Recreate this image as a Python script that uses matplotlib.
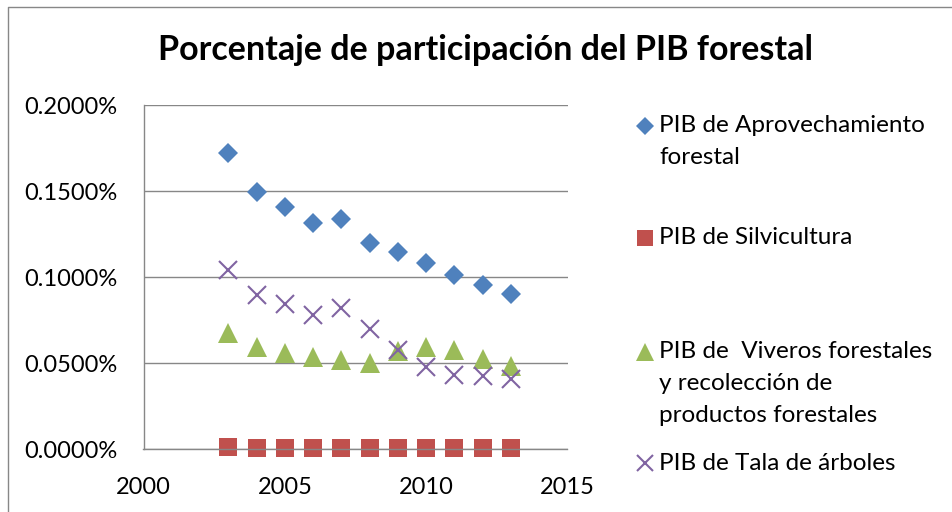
import matplotlib.pyplot as plt
from matplotlib.lines import Line2D
from matplotlib.ticker import FuncFormatter

# ----------------------------------------------------------------------
# Data (percent of GDP)
# ----------------------------------------------------------------------
years = [2003, 2004, 2005, 2006, 2007, 2008, 2009, 2010, 2011, 2012, 2013]

aprovechamiento = [0.1723, 0.1496, 0.1405, 0.1314, 0.1335, 0.1196,
                   0.1145, 0.1080, 0.1012, 0.0953, 0.0899]
silvicultura = [0.0013, 0.0008, 0.0008, 0.0008, 0.0008, 0.0008,
                0.0008, 0.0008, 0.0008, 0.0008, 0.0008]
viveros = [0.0677, 0.0593, 0.0561, 0.0532, 0.0517, 0.0498,
           0.0568, 0.0591, 0.0576, 0.0521, 0.0484]
tala = [0.1041, 0.0895, 0.0841, 0.0779, 0.0818, 0.0696,
        0.0576, 0.0479, 0.0430, 0.0424, 0.0405]

title = "Porcentaje de participación del PIB forestal"
legend_lines = [
    ["PIB de Aprovechamiento", "forestal"],
    ["PIB de Silvicultura"],
    ["PIB de  Viveros forestales", "y recolección de", "productos forestales"],
    ["PIB de Tala de árboles"],
]

BLUE = "#4F81BD"
RED = "#C0504D"
GREEN = "#9BBB59"
PURPLE = "#8064A2"
GRID = "#878787"

plt.rcParams["font.family"] = ["Lato", "DejaVu Sans"]

W, H = 953, 512
fig = plt.figure(figsize=(W / 100, H / 100), dpi=100)

# chart border (only left and top edges are inside the picture)
fig.add_artist(Line2D([8.5 / W, 8.5 / W, 1], [0, 1 - 6.5 / H, 1 - 6.5 / H],
                      transform=fig.transFigure, color=GRID, lw=1.0))

ax = fig.add_axes([143.5 / W, 63 / H, 424 / W, 344 / H])

series = [
    (aprovechamiento, "D", BLUE, 10.2),
    (silvicultura, "s", RED, 13.5),
    (viveros, "^", GREEN, 14.5),
    (tala, "x", PURPLE, 13.5),
]
for vals, mk, col, ms in series:
    ax.plot(years, vals, linestyle="none", marker=mk, color=col,
            markersize=ms, markeredgewidth=1.5 if mk == "x" else 0,
            clip_on=False)

ax.set_xlim(2000, 2015)
ax.set_ylim(0, 0.2)
ax.set_xticks([2000, 2005, 2010, 2015])
ax.set_yticks([0, 0.05, 0.1, 0.15, 0.2])
ax.yaxis.set_major_formatter(FuncFormatter(lambda v, p: f"{v:.4f}%"))
ax.grid(axis="y", color=GRID, lw=1.0)
ax.set_axisbelow(True)
for s in ["top", "right"]:
    ax.spines[s].set_visible(False)
for s in ["left", "bottom"]:
    ax.spines[s].set_color(GRID)
    ax.spines[s].set_linewidth(1.0)
ax.tick_params(length=0, labelsize=17)
ax.tick_params(axis="y", pad=19)
ax.tick_params(axis="x", pad=20)

fig.text(486 / W, 1 - 50 / H, title, ha="center", va="center",
         fontsize=24.5, fontweight="bold")

# legend, laid out like the original
entry_y = [126, 238, 352, 463]
line_gap = 32
for (vals, mk, col, ms), lines, y0 in zip(series, legend_lines, entry_y):
    fig.add_artist(Line2D([645 / W], [1 - y0 / H], transform=fig.transFigure,
                          marker=mk, color=col, linestyle="none",
                          markersize=ms * 0.85,
                          markeredgewidth=1.5 if mk == "x" else 0))
    for i, txt in enumerate(lines):
        fig.text(659 / W, 1 - (y0 + i * line_gap) / H, txt,
                 ha="left", va="center", fontsize=17.5)

fig.savefig("out.png", dpi=100)
